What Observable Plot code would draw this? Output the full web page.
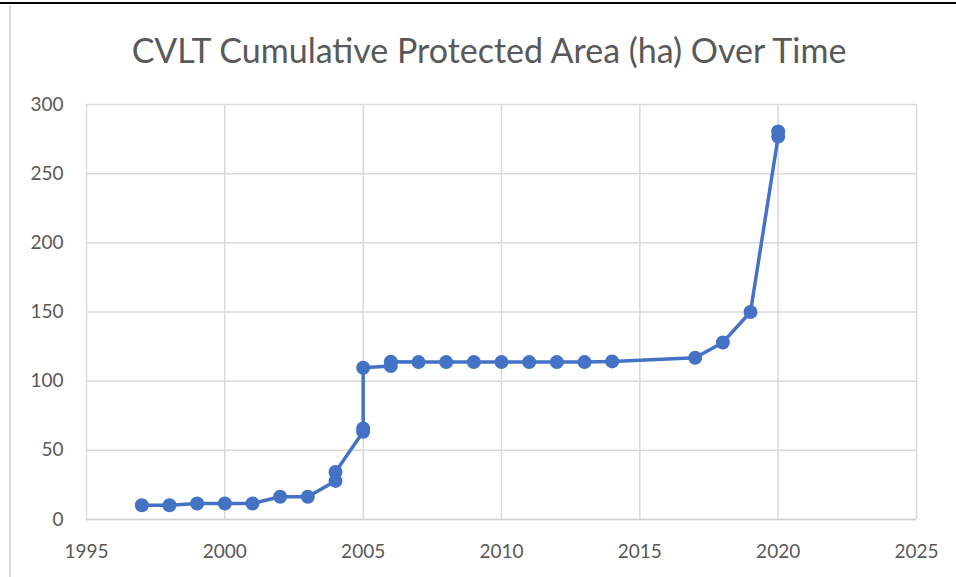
<!DOCTYPE html>
<html>
<head>
<meta charset="utf-8">
<script src="https://cdn.jsdelivr.net/npm/d3@7"></script>
<script src="https://cdn.jsdelivr.net/npm/@observablehq/plot@0.6"></script>
<style>
  html, body { margin: 0; padding: 0; background: #fff; }
  #wrap { position: relative; width: 956px; height: 577px; overflow: hidden; background: #fff; }
  #topline { position: absolute; left: 0; top: 2px; width: 956px; height: 2px; background: #000; z-index: 2; }
  #leftline { position: absolute; left: 9px; top: 5px; width: 1.5px; height: 572px; background: #d9d9d9; z-index: 2; }
  #title { position: absolute; left: 0; top: 0; width: 956px; height: 90px; text-align: center;
           font-family: Lato, "Open Sans", sans-serif; font-weight: 400; font-size: 32px; color: #595959;
           line-height: 1; padding-top: 33px; padding-left: 22px; box-sizing: border-box; white-space: nowrap; }
  #chart { position: absolute; left: 0; top: 90px; }
</style>
</head>
<body>
<div id="wrap">
  <div id="topline"></div>
  <div id="leftline"></div>
  <div id="title"><span id="tspan">CVLT Cumulative Protected Area (ha) Over Time</span></div>
  <div id="chart"></div>
</div>
<script>
const years = [1997, 1998, 1999, 2000, 2001, 2002, 2003, 2004, 2004, 2005, 2005, 2005, 2006, 2006,
               2007, 2008, 2009, 2010, 2011, 2012, 2013, 2014, 2017, 2018, 2019, 2020, 2020];
const areas = [10.3, 10.3, 11.6, 11.6, 11.6, 16.4, 16.4, 27.9, 34.4, 63.4, 65.8, 109.7, 111.0, 114.0,
               113.8, 113.8, 113.8, 113.8, 113.8, 113.8, 113.8, 114.3, 116.9, 128.0, 150.0, 276.8, 280.5];
const xTicks = [1995, 2000, 2005, 2010, 2015, 2020, 2025];
const yTicks = [0, 50, 100, 150, 200, 250, 300];

const data = years.map((y, i) => ({year: y, area: areas[i]}));
const blue = "#4472C4";

const chart = Plot.plot({
  width: 956,
  height: 487,
  marginLeft: 86,
  marginRight: 40,
  marginTop: 14,
  marginBottom: 58,
  style: {fontFamily: "Lato, 'Open Sans', sans-serif", fontSize: "19px", color: "#595959", background: "transparent"},
  x: {domain: [1995, 2025], ticks: xTicks, tickFormat: "d", label: null, tickSize: 0, tickPadding: 25},
  y: {domain: [0, 300], ticks: yTicks, label: null, tickSize: 0, tickPadding: 23},
  marks: [
    Plot.gridX(xTicks, {stroke: "#d9d9d9", strokeOpacity: 1, strokeWidth: 1.5}),
    Plot.gridY(yTicks, {stroke: "#d9d9d9", strokeOpacity: 1, strokeWidth: 1.5}),
    Plot.ruleY([0], {stroke: "#d0d0d0", strokeWidth: 1.5}),
    Plot.line(data, {x: "year", y: "area", stroke: blue, strokeWidth: 3.5}),
    Plot.dot(data, {x: "year", y: "area", r: 7, fill: blue, stroke: "none"})
  ]
});
document.getElementById("chart").appendChild(chart);

// fit title width to reference span (~715px)
const ts = document.getElementById("tspan");
const w = ts.getBoundingClientRect().width;
if (w > 0) {
  const fs = 32 * 715 / w;
  document.getElementById("title").style.fontSize = Math.min(Math.max(fs, 26), 36) + "px";
}
</script>
</body>
</html>
